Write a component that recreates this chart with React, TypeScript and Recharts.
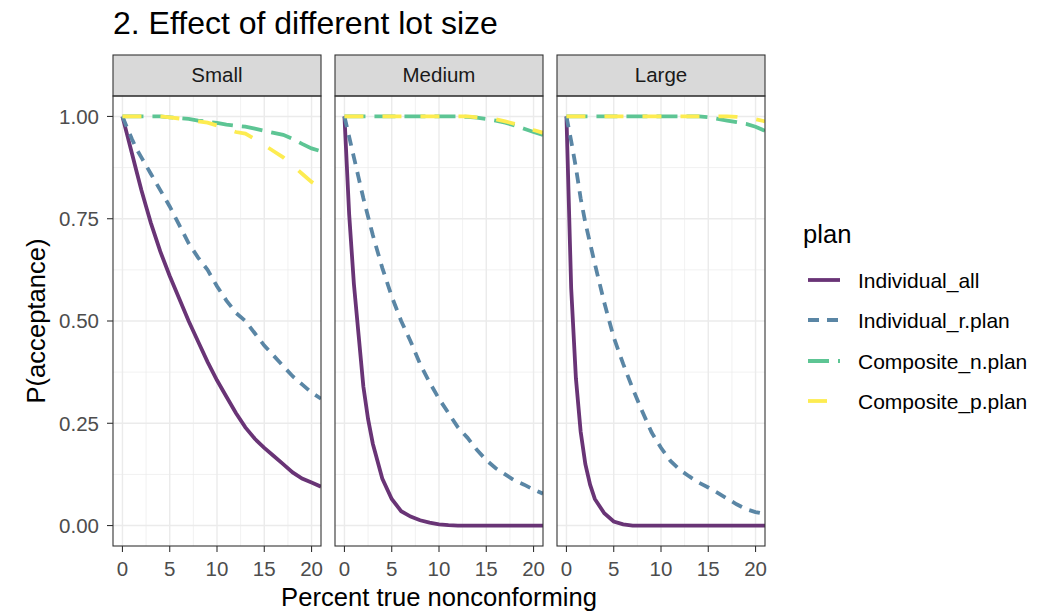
import { CartesianGrid, Line, LineChart, XAxis, YAxis } from "recharts";

const FONT = '"Liberation Sans", Arial, Helvetica, sans-serif';

// percent true nonconforming (shared x values)
const pct = [0, 0.5, 1, 1.5, 2, 2.5, 3, 4, 5, 6, 7, 8, 9, 10, 11, 12, 13, 14, 15, 16, 17, 18, 19, 20, 21];

const lotSizes = ["Small", "Medium", "Large"];
const plans = ["Individual_all", "Individual_r.plan", "Composite_n.plan", "Composite_p.plan"];
const planColors = ["#693476", "#5A86A5", "#5DC594", "#FDEC51"];
const planDashes = [undefined, "11 8", "21 9", "19 19"];

// P(acceptance)
const smallIndividualAll = [1.0, 0.955, 0.91, 0.865, 0.82, 0.78, 0.74, 0.67, 0.61, 0.555, 0.5, 0.45, 0.4, 0.355, 0.315, 0.275, 0.24, 0.212, 0.19, 0.17, 0.15, 0.13, 0.115, 0.105, 0.095];
const smallIndividualR = [1.0, 0.972, 0.945, 0.92, 0.9, 0.88, 0.86, 0.82, 0.78, 0.735, 0.69, 0.655, 0.625, 0.585, 0.55, 0.52, 0.5, 0.47, 0.44, 0.415, 0.39, 0.365, 0.345, 0.325, 0.31];
const smallCompositeN = [1, 1, 1, 1, 1, 1, 1, 1, 0.998, 0.996, 0.994, 0.99, 0.987, 0.984, 0.98, 0.977, 0.975, 0.97, 0.965, 0.96, 0.955, 0.945, 0.933, 0.922, 0.915];
const smallCompositeP = [1, 1, 1, 1, 1, 1, 1, 1, 0.998, 0.995, 0.992, 0.988, 0.985, 0.978, 0.97, 0.962, 0.958, 0.945, 0.93, 0.915, 0.9, 0.88, 0.86, 0.84, 0.825];

const mediumIndividualAll = [1.0, 0.76, 0.59, 0.465, 0.34, 0.26, 0.2, 0.115, 0.065, 0.035, 0.022, 0.013, 0.007, 0.003, 0.001, 0, 0, 0, 0, 0, 0, 0, 0, 0, 0];
const mediumIndividualR = [1.0, 0.95, 0.9, 0.85, 0.8, 0.755, 0.71, 0.63, 0.56, 0.5, 0.45, 0.395, 0.35, 0.31, 0.275, 0.24, 0.215, 0.185, 0.16, 0.14, 0.125, 0.11, 0.1, 0.088, 0.078];
const mediumCompositeN = [1, 1, 1, 1, 1, 1, 1, 1, 1, 1, 1, 1, 1, 1, 1, 1, 0.999, 0.997, 0.994, 0.99, 0.985, 0.978, 0.97, 0.962, 0.955];
const mediumCompositeP = [1, 1, 1, 1, 1, 1, 1, 1, 1, 1, 1, 1, 1, 1, 1, 1, 1, 0.998, 0.996, 0.993, 0.988, 0.982, 0.975, 0.967, 0.96];

const largeIndividualAll = [1.0, 0.58, 0.36, 0.23, 0.15, 0.1, 0.065, 0.03, 0.01, 0.003, 0, 0, 0, 0, 0, 0, 0, 0, 0, 0, 0, 0, 0, 0, 0];
const largeIndividualR = [1.0, 0.94, 0.875, 0.8, 0.74, 0.69, 0.64, 0.545, 0.46, 0.395, 0.335, 0.28, 0.228, 0.19, 0.158, 0.136, 0.12, 0.105, 0.093, 0.08, 0.066, 0.052, 0.04, 0.033, 0.028];
const largeCompositeN = [1, 1, 1, 1, 1, 1, 1, 1, 1, 1, 1, 1, 1, 1, 1, 1, 1, 1, 0.998, 0.994, 0.99, 0.986, 0.982, 0.975, 0.965];
const largeCompositeP = [1, 1, 1, 1, 1, 1, 1, 1, 1, 1, 1, 1, 1, 1, 1, 1, 1, 1, 1, 1, 1, 0.999, 0.997, 0.993, 0.988];

const panelValues = [
  [smallIndividualAll, smallIndividualR, smallCompositeN, smallCompositeP],
  [mediumIndividualAll, mediumIndividualR, mediumCompositeN, mediumCompositeP],
  [largeIndividualAll, largeIndividualR, largeCompositeN, largeCompositeP],
];

const xTicks = [0, 5, 10, 15, 20];
const xMinor = [2.5, 7.5, 12.5, 17.5];
const yTicks = [0, 0.25, 0.5, 0.75, 1];
const yMinor = [0.125, 0.375, 0.625, 0.875];
const X_DOMAIN = [-1, 21];
const Y_DOMAIN = [-0.05, 1.05];

// layout
const PANEL_LEFT = [113, 335, 557];
const PANEL_W = 208;
const PANEL_TOP = 96;
const PANEL_H = 450;
const STRIP_TOP = 55;
const Y_AXIS_W = 70;
const X_AXIS_H = 40;
const RIGHT_PAD = 12;

const scaleX = (props: any, v: number) => {
  const s = props?.xAxis?.scale;
  if (typeof s === "function") {
    const r = s(v);
    if (Number.isFinite(r)) return r;
  }
  const o = props.offset;
  return o.left + ((v - X_DOMAIN[0]) / (X_DOMAIN[1] - X_DOMAIN[0])) * o.width;
};

const scaleY = (props: any, v: number) => {
  const s = props?.yAxis?.scale;
  if (typeof s === "function") {
    const r = s(v);
    if (Number.isFinite(r)) return r;
  }
  const o = props.offset;
  return o.top + (1 - (v - Y_DOMAIN[0]) / (Y_DOMAIN[1] - Y_DOMAIN[0])) * o.height;
};

function Panel({ index }: { index: number }) {
  const values = panelValues[index];
  const rows = pct.map((x, i) => {
    const row: Record<string, number> = { pct: x };
    plans.forEach((p, j) => {
      row[p] = values[j][i];
    });
    return row;
  });
  const first = index === 0;
  const width = PANEL_W + RIGHT_PAD + (first ? Y_AXIS_W : 0);
  return (
    <div style={{ position: "absolute", left: PANEL_LEFT[index] - (first ? Y_AXIS_W : 0), top: PANEL_TOP }}>
      <LineChart width={width} height={PANEL_H + X_AXIS_H} data={rows} margin={{ top: 0, right: RIGHT_PAD, bottom: 0, left: 0 }}>
        <CartesianGrid
          stroke="#EBEBEB"
          strokeWidth={0.7}
          verticalCoordinatesGenerator={(p: any) => xMinor.map((v) => scaleX(p, v))}
          horizontalCoordinatesGenerator={(p: any) => yMinor.map((v) => scaleY(p, v))}
        />
        <CartesianGrid
          stroke="#EBEBEB"
          strokeWidth={1.4}
          verticalCoordinatesGenerator={(p: any) => xTicks.map((v) => scaleX(p, v))}
          horizontalCoordinatesGenerator={(p: any) => yTicks.map((v) => scaleY(p, v))}
        />
        <XAxis
          dataKey="pct"
          type="number"
          domain={X_DOMAIN}
          allowDataOverflow
          ticks={xTicks}
          interval={0}
          height={X_AXIS_H}
          axisLine={false}
          tickSize={6}
          tickMargin={9}
          tickLine={{ stroke: "#333333", strokeWidth: 1.1 }}
          tick={{ fill: "#4D4D4D", fontSize: 20.5, fontFamily: FONT }}
        />
        <YAxis
          type="number"
          domain={Y_DOMAIN}
          allowDataOverflow
          ticks={yTicks}
          interval={0}
          hide={!first}
          width={Y_AXIS_W}
          axisLine={false}
          tickSize={6}
          tickMargin={8}
          tickFormatter={(v: number) => v.toFixed(2)}
          tickLine={{ stroke: "#333333", strokeWidth: 1.1 }}
          tick={{ fill: "#4D4D4D", fontSize: 20.5, fontFamily: FONT }}
        />
        {plans.map((p, j) => (
          <Line
            key={p}
            type="linear"
            dataKey={p}
            stroke={planColors[j]}
            strokeWidth={3.8}
            strokeDasharray={planDashes[j]}
            strokeLinecap="butt"
            dot={false}
            activeDot={false}
            isAnimationActive={false}
          />
        ))}
      </LineChart>
    </div>
  );
}

export default function App() {
  const legendRows = [280, 320, 361, 401];
  return (
    <div style={{ position: "absolute", left: 0, top: 0, width: 1058, height: 611, background: "#fff", fontFamily: FONT }}>
      {lotSizes.map((_, i) => (
        <Panel key={i} index={i} />
      ))}
      <svg width={1058} height={611} style={{ position: "absolute", left: 0, top: 0, pointerEvents: "none" }}>
        <text x={113} y={34} fontSize={32} fill="#000" fontFamily={FONT}>
          2. Effect of different lot size
        </text>
        {lotSizes.map((name, i) => (
          <g key={name}>
            <rect x={PANEL_LEFT[i]} y={STRIP_TOP} width={PANEL_W} height={PANEL_TOP - STRIP_TOP} fill="#D9D9D9" stroke="#333333" strokeWidth={1.1} />
            <text x={PANEL_LEFT[i] + PANEL_W / 2} y={82} textAnchor="middle" fontSize={20.5} fill="#1A1A1A" fontFamily={FONT}>
              {name}
            </text>
            <rect x={PANEL_LEFT[i]} y={PANEL_TOP} width={PANEL_W} height={PANEL_H} fill="none" stroke="#333333" strokeWidth={1.1} />
          </g>
        ))}
        <text x={45} y={321} transform="rotate(-90 45 321)" textAnchor="middle" fontSize={25.6} fill="#000" fontFamily={FONT}>
          P(acceptance)
        </text>
        <text x={439} y={606} textAnchor="middle" fontSize={25.6} fill="#000" fontFamily={FONT}>
          Percent true nonconforming
        </text>
        <text x={803} y={243} fontSize={25.6} fill="#000" fontFamily={FONT}>
          plan
        </text>
        {plans.map((p, j) => (
          <g key={p}>
            <line x1={808} x2={840} y1={legendRows[j]} y2={legendRows[j]} stroke={planColors[j]} strokeWidth={3.8} strokeDasharray={planDashes[j]} />
            <text x={858} y={legendRows[j] + 7.5} fontSize={21} fill="#000" fontFamily={FONT}>
              {p}
            </text>
          </g>
        ))}
      </svg>
    </div>
  );
}
